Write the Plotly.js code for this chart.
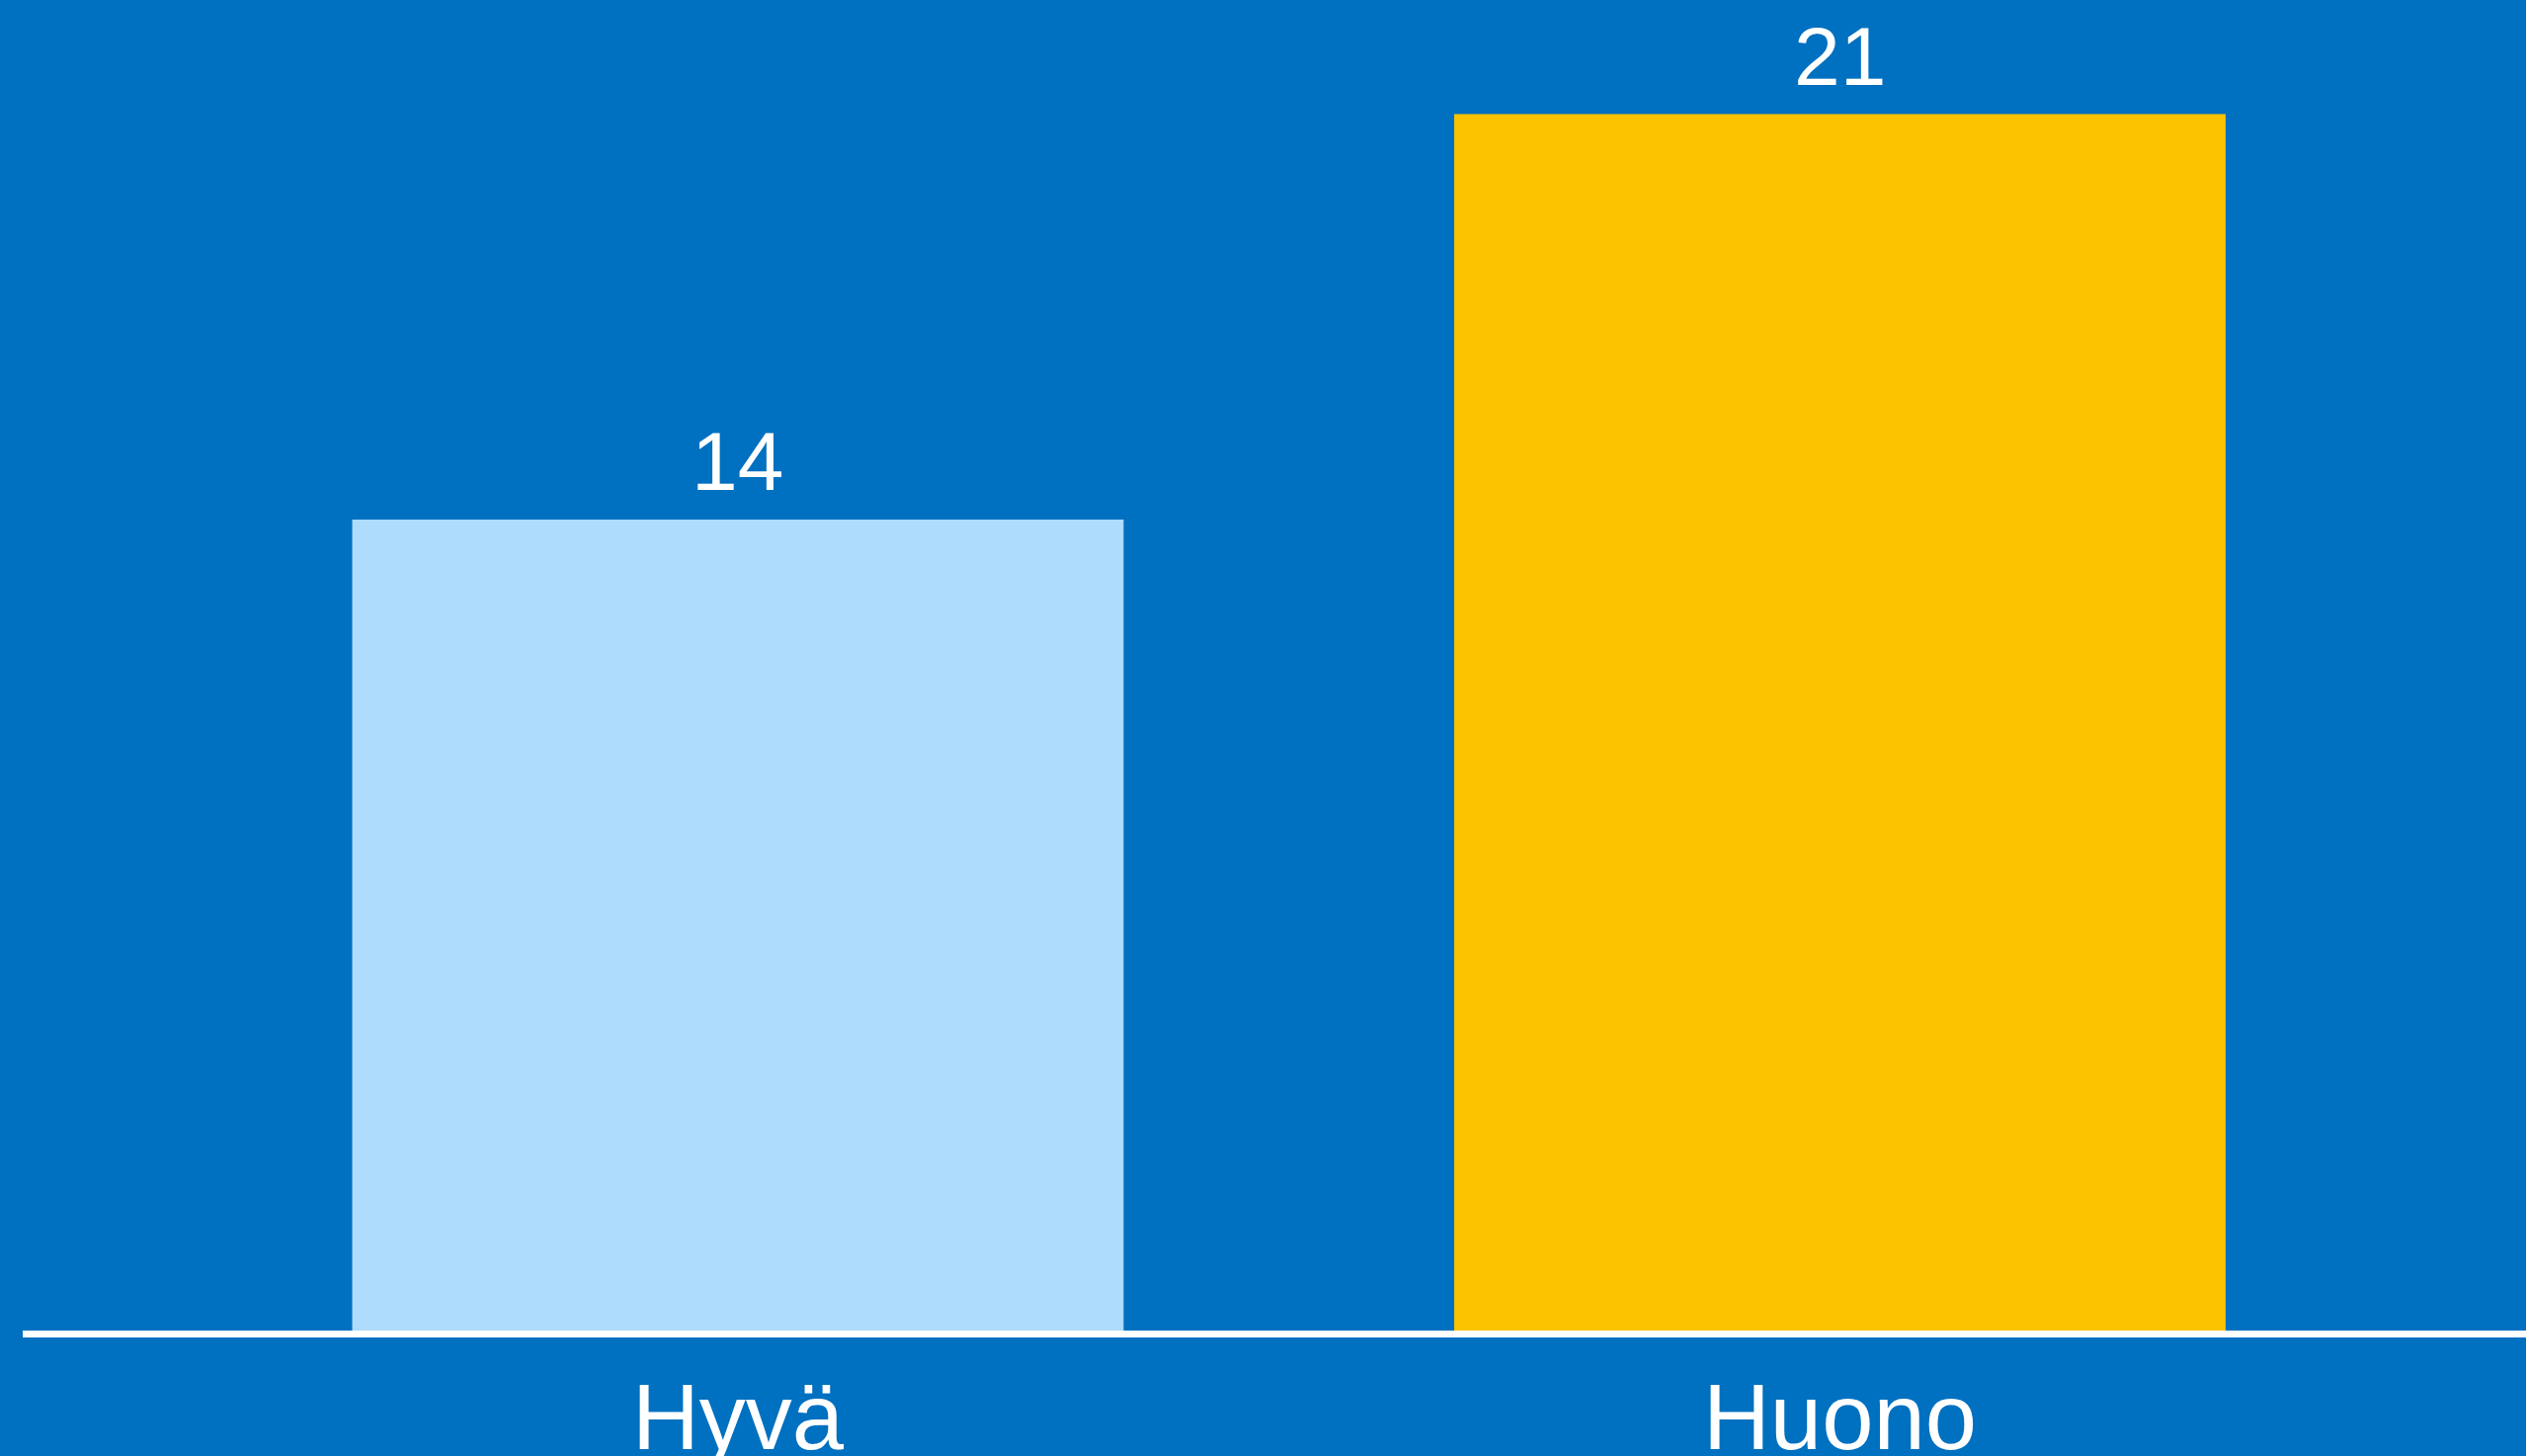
<!DOCTYPE html>
<html>
<head>
<meta charset="utf-8">
<script src="https://cdn.plot.ly/plotly-3.0.1.min.js"></script>
<style>
  html, body { margin: 0; padding: 0; background: #0070C0; }
  #chart { width: 2557px; height: 1474px; }
</style>
</head>
<body>
<div id="chart"></div>
<script>
const categories = ["Hyvä", "Huono"];
const values = [14, 21];
const barColors = ["#ADDCFC", "#FCC300"];

const labelFont = { family: "Liberation Sans, Arial, sans-serif", size: 84, color: "#FFFFFF" };

const trace = {
  type: "bar",
  x: categories,
  y: values,
  marker: { color: barColors, line: { width: 0 } },
  width: 0.7,
  cliponaxis: false,
  hoverinfo: "skip"
};

const annotations = categories.map((c, i) => ({
  x: c,
  y: values[i],
  xref: "x",
  yref: "y",
  text: String(values[i]),
  showarrow: false,
  xanchor: "center",
  yanchor: "bottom",
  yshift: 10,
  font: labelFont
}));

const layout = {
  width: 2557,
  height: 1474,
  paper_bgcolor: "#0070C0",
  plot_bgcolor: "#0070C0",
  margin: { l: 23, r: 0, t: 0, b: 127, pad: 0 },
  showlegend: false,
  annotations: annotations,
  xaxis: {
    type: "category",
    range: [-0.649, 1.6226],
    showline: true,
    linecolor: "#FFFFFF",
    linewidth: 7,
    ticks: "",
    showgrid: false,
    zeroline: false,
    tickfont: { family: "Liberation Sans, Arial, sans-serif", size: 94, color: "#FFFFFF" },
    fixedrange: true
  },
  yaxis: {
    range: [0, 22.97],
    visible: false,
    showgrid: false,
    zeroline: false,
    fixedrange: true
  },
  bargap: 0.3
};

Plotly.newPlot("chart", [trace], layout, { displayModeBar: false, staticPlot: true });
</script>
</body>
</html>
